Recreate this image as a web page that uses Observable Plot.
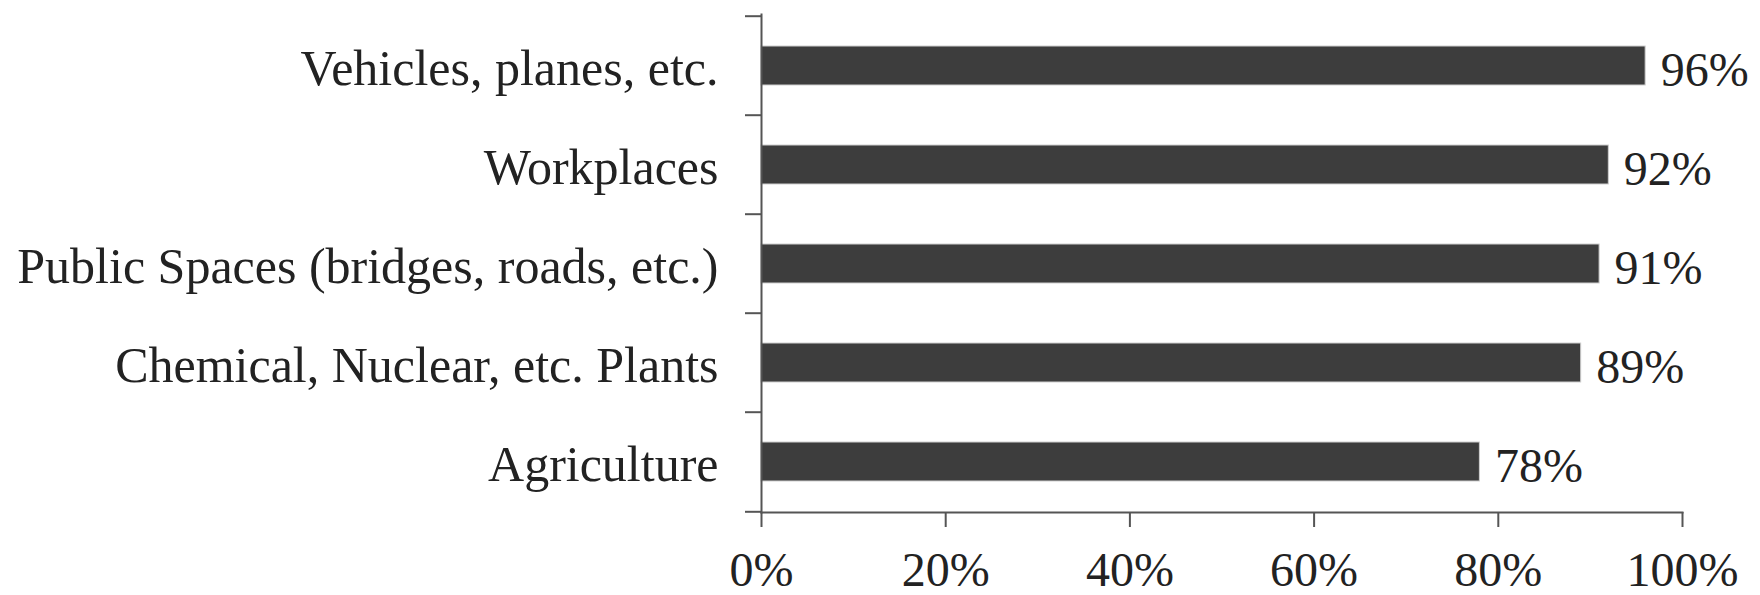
<!DOCTYPE html>
<html>
<head>
<meta charset="utf-8">
<script src="https://cdn.jsdelivr.net/npm/d3@7"></script>
<script src="https://cdn.jsdelivr.net/npm/@observablehq/plot@0.6"></script>
<style>
  html, body { margin: 0; padding: 0; background: #ffffff; }
  #chart svg { display: block; }
</style>
</head>
<body>
<div id="chart"></div>
<script>
const categories = [
  "Vehicles, planes, etc.",
  "Workplaces",
  "Public Spaces (bridges, roads, etc.)",
  "Chemical, Nuclear, etc. Plants",
  "Agriculture"
];
const values = [0.96, 0.92, 0.91, 0.89, 0.78];
const xTicks = [0, 0.2, 0.4, 0.6, 0.8, 1.0];

const data = categories.map((c, i) => ({category: c, value: values[i]}));

const W = 1760, H = 595;
const mTop = 14, mBottom = 83, mLeft = 761, mRight = 78;
const pInner = 0.61;
const step = (H - mTop - mBottom) / categories.length;
const fmt = d3.format(".0%");
const axisColor = "#555";
const FS = 48;
const FSY = 50;

const chart = Plot.plot({
  width: W,
  height: H,
  marginTop: mTop,
  marginBottom: mBottom,
  marginLeft: mLeft,
  marginRight: mRight,
  style: {fontFamily: "'Liberation Serif', serif", fontSize: FS + "px", color: "#222", background: "transparent"},
  x: {domain: [0, 1], label: null},
  y: {domain: categories, paddingInner: pInner, paddingOuter: pInner / 2, label: null},
  marks: [
    Plot.barX(data, {x: "value", y: "category", fill: "#3d3d3d", stroke: "#cfcfcf", strokeWidth: 1}),
    Plot.text(data, {x: "value", y: "category", text: d => fmt(d.value), textAnchor: "start", dx: 15, dy: 5, fill: "#222", fontSize: FS}),
    // y axis labels
    Plot.axisY({tickSize: 0, tickPadding: 43, fontSize: FSY, fill: "#222", dy: 3, label: null}),
    // y axis ticks at band boundaries
    Plot.axisY({tickSize: 16, text: null, stroke: axisColor, strokeWidth: 2, dy: -step / 2, label: null}),
    Plot.axisY([categories[categories.length - 1]], {tickSize: 16, text: null, stroke: axisColor, strokeWidth: 2, dy: step / 2, label: null}),
    // x axis
    Plot.axisX({ticks: xTicks, tickFormat: fmt, tickSize: 15, tickPadding: 24, fontSize: FS, fill: "#222", stroke: axisColor, strokeWidth: 2, label: null}),
    Plot.frame({anchor: "bottom", stroke: axisColor, strokeWidth: 2}),
    Plot.frame({anchor: "left", stroke: axisColor, strokeWidth: 2})
  ]
});
document.getElementById("chart").appendChild(chart);
</script>
</body>
</html>
